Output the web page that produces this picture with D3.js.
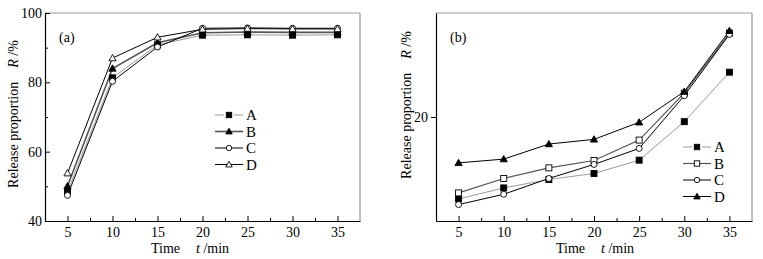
<!DOCTYPE html>
<html><head><meta charset="utf-8">
<script src="https://cdn.jsdelivr.net/npm/d3@7"></script>
<style>
body{margin:0;background:#fff;}
svg{display:block;font-family:"Liberation Serif","Times New Roman",serif;}
svg text{font-family:"Liberation Serif","Times New Roman",serif;}
</style></head><body>
<svg id="c" width="763" height="259"></svg>
<script>
const times = [5, 10, 15, 20, 25, 30, 35];
const xTickLabels = [5, 10, 15, 20, 25, 30, 35];
const seriesNames = ["A", "B", "C", "D"];
// panel (a)
const aA = [48.5, 81.3, 90.8, 93.6, 93.7, 93.6, 93.7];
const aB = [50.1, 84.0, 91.4, 94.3, 94.5, 94.4, 94.4];
const aC = [47.4, 80.3, 90.2, 95.6, 95.7, 95.6, 95.6];
const aD = [53.8, 87.0, 93.0, 95.3, 95.5, 95.4, 95.4];
const aYTicks = [40, 60, 80, 100];
// panel (b)
const bA = [12.12, 13.18, 13.99, 14.57, 15.85, 19.55, 24.31];
const bB = [12.70, 14.09, 15.11, 15.82, 17.78, 22.29, 28.07];
const bC = [11.58, 12.57, 14.09, 15.44, 16.98, 22.05, 27.94];
const bD = [15.59, 15.95, 17.40, 17.85, 19.49, 22.44, 28.29];
const bYTicks = [20];

const svg = d3.select("#c");

function marker(g, type, x, y, s) {
  const sz = s || 1;
  if (type === "sqf" || type === "sqo") {
    g.append("rect").attr("x", x - 3 * sz).attr("y", y - 3 * sz).attr("width", 6 * sz).attr("height", 6 * sz)
      .attr("fill", type === "sqf" ? "#000" : "#fff").attr("stroke", "#000").attr("stroke-width", 0.9);
  } else if (type === "cio") {
    g.append("circle").attr("cx", x).attr("cy", y).attr("r", 3 * sz)
      .attr("fill", "#fff").attr("stroke", "#000").attr("stroke-width", 0.9);
  } else if (type === "trf" || type === "tro") {
    const h = 3.6 * sz;
    g.append("path").attr("d", `M${x},${y - h}L${x + h},${y + h * 0.75}L${x - h},${y + h * 0.75}Z`)
      .attr("fill", type === "trf" ? "#000" : "#fff").attr("stroke", "#000").attr("stroke-width", 0.9);
  }
}

function panel(opt) {
  const g = svg.append("g");
  const x = d3.scaleLinear().domain([2.5, 37.5]).range([opt.x0, opt.x1]);
  const y = d3.scaleLinear().domain(opt.yDomain).range([opt.y1, opt.y0]);
  // frame: top & right grey
  g.append("line").attr("x1", opt.x0).attr("x2", opt.x1).attr("y1", opt.y0).attr("y2", opt.y0).attr("stroke", "#999").attr("stroke-width", 1.2);
  g.append("line").attr("x1", opt.x1).attr("x2", opt.x1).attr("y1", opt.y0).attr("y2", opt.y1).attr("stroke", "#aaa").attr("stroke-width", 1.5);
  // x axis
  const xa = g.append("g").attr("transform", `translate(0,${opt.y1})`)
    .call(d3.axisBottom(x).tickValues(xTickLabels).tickSizeInner(-5).tickSizeOuter(0).tickPadding(6).tickFormat(d3.format("d")));
  xa.attr("font-family", null);
  xa.select(".domain").attr("stroke", "#000").attr("stroke-width", 1.2);
  xa.selectAll("text").attr("font-size", 14).attr("fill", "#000");
  const minors = xTickLabels.slice(0, -1).map(v => v + 2.5);
  g.append("g").attr("transform", `translate(0,${opt.y1})`)
    .call(d3.axisBottom(x).tickValues(minors).tickSizeInner(-3).tickSizeOuter(0).tickFormat(""))
    .select(".domain").remove();
  // y axis
  const ya = g.append("g").attr("transform", `translate(${opt.x0},0)`)
    .call(d3.axisLeft(y).tickValues(opt.yTicks).tickSizeInner(opt.yInward ? -5 : 5).tickSizeOuter(0)
      .tickPadding(opt.yInward ? 4 : 3).tickFormat(d3.format("d")));
  ya.attr("font-family", null);
  ya.select(".domain").attr("stroke", "#000").attr("stroke-width", 1.2);
  ya.selectAll("text").attr("font-size", 14).attr("fill", "#000");
  if (opt.yInward) ya.selectAll("text").attr("x", -3);
  if (opt.yMinor) {
    g.append("g").attr("transform", `translate(${opt.x0},0)`)
      .call(d3.axisLeft(y).tickValues(opt.yMinor).tickSizeInner(-3).tickSizeOuter(0).tickFormat(""))
      .select(".domain").remove();
  }
  // series
  opt.series.forEach(s => {
    const line = d3.line().x((d, i) => x(times[i])).y(d => y(d));
    g.append("path").datum(s.values).attr("d", line).attr("fill", "none")
      .attr("stroke", s.color).attr("stroke-width", s.width);
  });
  opt.series.forEach(s => {
    s.values.forEach((v, i) => marker(g, s.marker, x(times[i]), y(v)));
  });
  // legend
  opt.series.forEach((s, i) => {
    const ly = opt.legY + i * opt.legDy;
    g.append("line").attr("x1", opt.legX).attr("x2", opt.legX + 28).attr("y1", ly).attr("y2", ly)
      .attr("stroke", s.color).attr("stroke-width", s.width);
    if (s.marker === "sqf" && opt.gapA) {
      g.append("rect").attr("x", opt.legX + 9).attr("y", ly - 2).attr("width", 10).attr("height", 4).attr("fill", "#fff");
    }
    marker(g, s.marker, opt.legX + 14, ly, 0.9);
    g.append("text").attr("x", opt.legX + 31).attr("y", ly + 5).attr("font-size", 15).text(s.name);
  });
  // panel label
  g.append("text").attr("x", opt.x0 + 14).attr("y", opt.y0 + 29).attr("font-size", 14).text(opt.label);
  // y label
  const yl = g.append("text").attr("transform", `translate(${opt.yLabX},${opt.yLabY}) rotate(-90)`)
    .attr("text-anchor", "middle").attr("font-size", 14);
  yl.append("tspan").text("Release proportion");
  yl.append("tspan").attr("dx", 14).attr("font-style", "italic").text("R");
  yl.append("tspan").text(" /%");
  // x label
  const xl = g.append("text").attr("x", opt.xLabX).attr("y", 253).attr("font-size", 14);
  xl.append("tspan").text("Time");
  xl.append("tspan").attr("dx", 16).attr("font-style", "italic").text("t");
  xl.append("tspan").text(" /min");
}

panel({
  x0: 45, x1: 360, y0: 13, y1: 221, yDomain: [40, 100], yTicks: aYTicks, yMinor: [50, 70, 90], yInward: true,
  label: "(a)", legX: 215, legY: 115, legDy: 16.5, gapA: true,
  yLabX: 18, yLabY: 114, xLabX: 151,
  series: [
    { name: seriesNames[0], values: aA, marker: "sqf", color: "#999", width: 1 },
    { name: seriesNames[1], values: aB, marker: "trf", color: "#555", width: 1.6 },
    { name: seriesNames[2], values: aC, marker: "cio", color: "#000", width: 1 },
    { name: seriesNames[3], values: aD, marker: "tro", color: "#000", width: 1 }
  ]
});

panel({
  x0: 436, x1: 752, y0: 13, y1: 221, yDomain: [10, 30], yTicks: bYTicks, yInward: false,
  label: "(b)", legX: 683, legY: 147, legDy: 16.5, gapA: true,
  yLabX: 411, yLabY: 105, xLabX: 556,
  series: [
    { name: seriesNames[0], values: bA, marker: "sqf", color: "#999", width: 1 },
    { name: seriesNames[1], values: bB, marker: "sqo", color: "#555", width: 1.2 },
    { name: seriesNames[2], values: bC, marker: "cio", color: "#000", width: 1 },
    { name: seriesNames[3], values: bD, marker: "trf", color: "#000", width: 1 }
  ]
});
</script>
</body></html>
